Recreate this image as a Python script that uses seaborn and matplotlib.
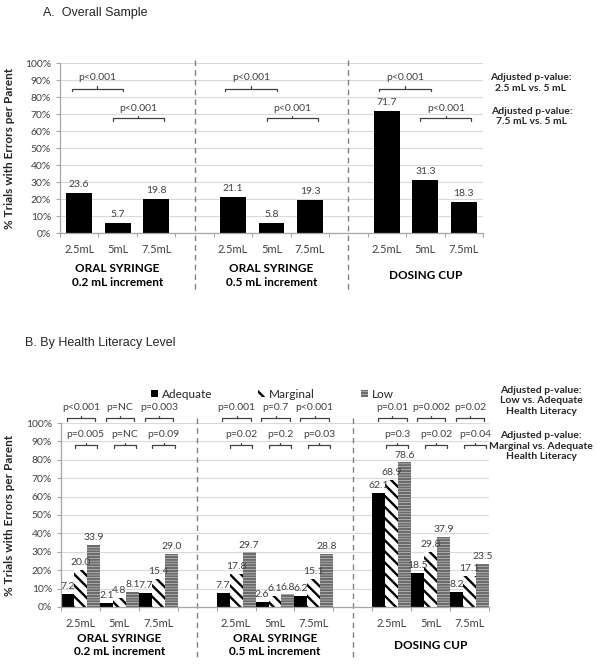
import numpy as np
import pandas as pd
import matplotlib.pyplot as plt
from matplotlib.patches import Patch
import seaborn as sns

sns.set_style('white')
plt.rcParams['font.family'] = ['Lato', 'DejaVu Sans']
plt.rcParams['hatch.linewidth'] = 1.7

# data
devices = ['ORAL SYRINGE\n0.2 mL increment', 'ORAL SYRINGE\n0.5 mL increment', 'DOSING CUP']
doses = ['2.5mL', '5mL', '7.5mL']

# A. overall sample, one value per device x dose
overall = [23.6, 5.7, 19.8, 21.1, 5.8, 19.3, 71.7, 31.3, 18.3]
p_a_25vs5 = ['p<0.001', 'p<0.001', 'p<0.001']
p_a_75vs5 = ['p<0.001', 'p<0.001', 'p<0.001']

# B. by health literacy level
levels = ['Adequate', 'Marginal', 'Low']
adequate = [7.2, 2.1, 7.7, 7.7, 2.6, 6.2, 62.1, 18.5, 8.2]
marginal = [20.0, 4.8, 15.4, 17.8, 6.1, 15.1, 68.9, 29.8, 17.1]
low = [33.9, 8.1, 29.0, 29.7, 6.8, 28.8, 78.6, 37.9, 23.5]
p_low_vs_adeq = ['p<0.001', 'p=NC', 'p=0.003', 'p=0.001', 'p=0.7', 'p<0.001',
                 'p=0.01', 'p=0.002', 'p=0.02']
p_marg_vs_adeq = ['p=0.005', 'p=NC', 'p=0.09', 'p=0.02', 'p=0.2', 'p=0.03',
                  'p=0.3', 'p=0.02', 'p=0.04']

# category slots: 3 doses per device with an empty slot between devices
order = []
slot_labels = []
for i in range(len(devices)):
    for d in doses:
        order.append(f'{i}_{d}')
        slot_labels.append(d)
    if i < len(devices) - 1:
        order.append(f'gap{i}')
        slot_labels.append('')
bar_slots = [s for s in order if not s.startswith('gap')]

df_a = pd.DataFrame({'slot': bar_slots, 'pct': overall})
df_b = pd.DataFrame({
    'slot': bar_slots * 3,
    'level': np.repeat(levels, len(bar_slots)),
    'pct': adequate + marginal + low,
})

txt = '#404040'
axis_col = '#a6a6a6'


def style_axes(ax):
    ax.set_xlim(-0.5, len(order) - 0.5)
    ax.set_ylim(0, 100)
    ax.set_yticks(range(0, 101, 10))
    ax.set_yticklabels([f'{v}%' for v in range(0, 101, 10)], fontsize=7.5, color=txt)
    ax.set_xticks(np.arange(-0.5, len(order), 1))
    ax.set_xticklabels([])
    ax.set_xticks(range(len(order)), labels=slot_labels, minor=True)
    ax.tick_params(axis='x', which='minor', length=0, pad=8, labelsize=8, labelcolor=txt)
    ax.tick_params(axis='both', which='major', length=3, color=axis_col, direction='out')
    ax.tick_params(axis='x', which='major', bottom=True)
    ax.tick_params(axis='y', left=True)
    for s in ['top', 'right']:
        ax.spines[s].set_visible(False)
    for s in ['left', 'bottom']:
        ax.spines[s].set_color(axis_col)
        ax.spines[s].set_linewidth(0.9)
    ax.yaxis.grid(True, color='#d9d9d9', lw=0.8)
    ax.set_axisbelow(True)
    ax.set_xlabel('')
    ax.set_ylabel('% Trials with Errors per Parent', fontsize=8.5, fontweight='bold')


def bracket(ax, x0, x1, y, label, ty, h=1.6):
    ax.plot([x0, x0, x1, x1], [y - h, y, y, y - h], color=txt, lw=0.9, clip_on=False)
    xm = (x0 + x1) / 2
    ax.plot([xm, xm], [y, y + h * 0.8], color=txt, lw=0.9, clip_on=False)
    ax.text(xm, ty, label, ha='center', va='center', fontsize=7.5, color=txt)


fig = plt.figure(figsize=(6, 6.69), dpi=100)

# ---- A. Overall sample
ax_a = fig.add_axes([0.1, 0.6517, 0.705, 0.2541])
sns.barplot(data=df_a, x='slot', y='pct', order=order, color='black', saturation=1,
            width=0.67, edgecolor='none', ax=ax_a)
style_axes(ax_a)
ax_a.yaxis.set_label_coords(-0.106, 0.5)
for c in ax_a.containers:
    ax_a.bar_label(c, fmt='%.1f', padding=3, fontsize=7.5, color=txt)

for i, dev in enumerate(devices):
    x0 = order.index(f'{i}_2.5mL')
    bracket(ax_a, x0 - 0.2, x0 + 1.15, 85, p_a_25vs5[i], 91.5)
    bracket(ax_a, x0 + 0.87, x0 + 2.2, 67.5, p_a_75vs5[i], 73.5)
    ax_a.text(x0 + 1, -25, dev, ha='center', va='center', fontsize=8.5,
              fontweight='bold', color='black', linespacing=1.3)
for i in range(len(devices) - 1):
    xg = order.index(f'gap{i}')
    ax_a.plot([xg, xg], [101.8, -33.5], color='#808080', lw=1.0, ls=(0, (4, 3)), clip_on=False)

fig.text(0.072, 0.98, 'A.  Overall Sample', fontsize=9, family='Liberation Sans', va='center')
fig.text(0.884, 0.876, 'Adjusted p-value:\n2.5 mL vs. 5 mL', ha='center', va='center',
         fontsize=7.5, fontweight='bold', linespacing=1.2)
fig.text(0.886, 0.826, 'Adjusted p-value:\n7.5 mL vs. 5 mL', ha='center', va='center',
         fontsize=7.5, fontweight='bold', linespacing=1.2)

# ---- B. By health literacy level
ax_b = fig.add_axes([0.1017, 0.0927, 0.7133, 0.275])
sns.barplot(data=df_b, x='slot', y='pct', hue='level', order=order, hue_order=levels,
            palette=['black', 'white', 'white'], saturation=1, width=1.0, gap=0,
            ax=ax_b)
ax_b.get_legend().remove()
style_axes(ax_b)
ax_b.yaxis.set_label_coords(-0.107, 0.5)

bar_styles = {
    'Adequate': dict(facecolor='black', edgecolor='black', hatch=None),
    'Marginal': dict(facecolor='white', edgecolor='black', hatch='\\\\\\'),
    'Low': dict(facecolor='white', edgecolor='#6b6b6b', hatch='------'),
}
for lev, c in zip(levels, ax_b.containers):
    for p in c:
        p.set_facecolor(bar_styles[lev]['facecolor'])
        p.set_edgecolor(bar_styles[lev]['edgecolor'])
        p.set_hatch(bar_styles[lev]['hatch'])
        p.set_linewidth(0)
    ax_b.bar_label(c, fmt='%.1f', padding=2, fontsize=7.5, color=txt)

for k, s in enumerate(bar_slots):
    x = order.index(s)
    bracket(ax_b, x - 0.35, x + 0.38, 102.7, p_low_vs_adeq[k], 108.5)
    bracket(ax_b, x - 0.15, x + 0.42, 88, p_marg_vs_adeq[k], 94)
for i, dev in enumerate(devices):
    x0 = order.index(f'{i}_5mL')
    ax_b.text(x0, -20.7, dev, ha='center', va='center', fontsize=8.5,
              fontweight='bold', color='black', linespacing=1.3)
for i in range(len(devices) - 1):
    xg = order.index(f'gap{i}')
    ax_b.plot([xg, xg], [102.7, -28.8], color='#808080', lw=1.0, ls=(0, (4, 3)), clip_on=False)

handles = [Patch(label=lev, linewidth=0, **bar_styles[lev]) for lev in levels]
fig.legend(handles=handles, loc='center left', bbox_to_anchor=(0.252, 0.411), ncol=3,
           frameon=False, fontsize=8.5, handlelength=0.6, handleheight=0.6,
           handletextpad=0.3, columnspacing=3.9, borderaxespad=0, borderpad=0)

fig.text(0.042, 0.487, 'B. By Health Literacy Level', fontsize=9, family='Liberation Sans',
         va='center')
fig.text(0.902, 0.4006, 'Adjusted p-value:\nLow vs. Adequate\nHealth Literacy', ha='center',
         va='center', fontsize=7.5, fontweight='bold', linespacing=1.2)
fig.text(0.902, 0.3333, 'Adjusted p-value:\nMarginal vs. Adequate\nHealth Literacy',
         ha='center', va='center', fontsize=7.5, fontweight='bold', linespacing=1.2)

fig.savefig('out.png', dpi=100)
